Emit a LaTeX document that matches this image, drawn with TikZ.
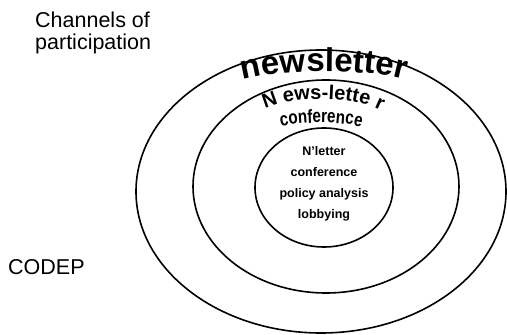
\documentclass[tikz,border=0pt]{standalone}
\usepackage{fontspec}
\setmainfont{Liberation Sans}
\newfontfamily\squeezefont{Liberation Sans}[FakeStretch=0.8]
\usetikzlibrary{decorations.text}

\begin{document}
\begin{tikzpicture}[x=1pt, y=1pt,
    ring/.style={draw, line width=1.6pt},
    sidetext/.style={inner sep=0pt, align=left, font=\fontsize{21.5}{22}\selectfont},
    core/.style={inner sep=0pt, align=center, font=\bfseries\fontsize{12.5}{21.3}\selectfont},
    curved/.style={decorate, decoration={text along path, text align=center, text color=black}}]

    \useasboundingbox (0,0) rectangle (507,335);

    % Rings
    \draw[ring] (321,143.5) ellipse [x radius=185pt, y radius=141.5pt];
    \draw[ring] (326,148.5) ellipse [x radius=133pt, y radius=106.5pt];
    \draw[ring] (324,147.5) ellipse [x radius=69pt, y radius=59.5pt];

    % Curved labels
    \path[curved, decoration={text={|\bfseries\fontsize{33}{33}\selectfont|newsletter}}]
        (234,252) .. controls (268,267.5) and (380,267.5) .. (414,252);
    \path[curved, decoration={text={|\bfseries\fontsize{20}{20}\selectfont|N ews-lette r}}]
        (256,220) .. controls (275,241.5) and (369,241.5) .. (390,218);
    \path[curved, decoration={text={|\squeezefont\bfseries\fontsize{19}{19}\selectfont|conference}}]
        (276,207.5) .. controls (300,214) and (345,214) .. (366,206.5);

    % Centre
    \node[core] (core) at (324,151.2) {N'letter\\conference\\policy analysis\\lobbying};

    % Side labels
    \node[sidetext, anchor=north west] (channels) at (35,323.5) {Channels of\\participation};
    \node[sidetext, anchor=base west] (codep) at (8,60) {CODEP};
\end{tikzpicture}
\end{document}
